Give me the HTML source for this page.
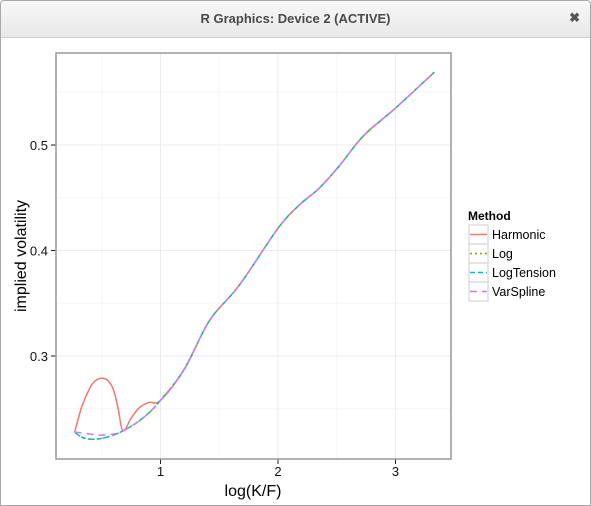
<!DOCTYPE html>
<html><head><meta charset="utf-8"><style>
body{margin:0;width:591px;height:506px;overflow:hidden;background:#fff;font-family:"Liberation Sans",sans-serif}
#win{position:absolute;left:0;top:0;width:589px;height:504px;border:1px solid #a8a8a8;border-radius:4px 4px 0 0;background:#fff}
#tb{position:absolute;left:0;top:0;width:589px;height:36px;background:linear-gradient(#f8f8f8,#e8e8e8);border-bottom:1px solid #d0d0d0;border-radius:4px 4px 0 0}
#tt{position:absolute;width:100%;top:10px;text-align:center;font-size:13px;font-weight:bold;color:#4a4a4a}
#cl{position:absolute;right:10px;top:9px;font-size:13px;color:#555;font-weight:bold}
svg{position:absolute;left:0;top:0}
</style></head><body>
<div id="win">
<div id="tb"><div id="tt">R Graphics: Device 2 (ACTIVE)</div><div id="cl">✖</div></div>
</div>
<svg id="ch" width="591" height="506"></svg>
<script>
const xTicks=[1,2,3];
const yTicks=[0.3,0.4,0.5];
const xMinor=[0.5,1.5,2.5];
const yMinor=[0.25,0.35,0.45,0.55];
const baseX=[0.27,0.33,0.415,0.5,0.6,0.68,0.8,0.9,1.0,1.2,1.42,1.67,2.0,2.18,2.35,2.52,2.73,3.0,3.33];
const baseY=[0.228,0.223,0.221,0.222,0.225,0.229,0.237,0.246,0.258,0.287,0.334,0.367,0.421,0.443,0.459,0.480,0.509,0.535,0.569];
const harmX=[0.27,0.33,0.4,0.45,0.5,0.55,0.6,0.64,0.68,0.75,0.82,0.9,1.0,1.2,1.42,1.67,2.0,2.18,2.35,2.52,2.73,3.0,3.33];
const harmY=[0.228,0.252,0.270,0.277,0.279,0.277,0.268,0.250,0.229,0.241,0.251,0.256,0.258,0.287,0.334,0.367,0.421,0.443,0.459,0.480,0.509,0.535,0.569];
const varX=[0.27,0.4,0.5,0.6,0.68,0.8,0.9,1.0,1.2,1.42,1.67,2.0,2.18,2.35,2.52,2.73,3.0,3.33];
const varY=[0.228,0.226,0.225,0.226,0.229,0.237,0.246,0.258,0.287,0.334,0.367,0.421,0.443,0.459,0.480,0.509,0.535,0.569];
const series=["Harmonic","Log","LogTension","VarSpline"];
const colors=["#F8766D","#7CAE00","#00BFC4","#C77CFF"];
const dashes=["","2,3","5,3","7,5"];
const L=56,T=53,R=451,B=459;
const sx=v=>43+117.5*v, sy=v=>356-(v-0.3)*1055;
const svg=document.getElementById('ch');const NS="http://www.w3.org/2000/svg";
function mk(t,a,p){const e=document.createElementNS(NS,t);for(const k in a)e.setAttribute(k,a[k]);(p||svg).appendChild(e);return e;}
const cp=mk('clipPath',{id:'cp'});mk('rect',{x:L,y:T,width:R-L,height:B-T},cp);
xMinor.forEach(v=>{const e=mk('line',{x1:sx(v),x2:sx(v),y1:T,y2:B,stroke:'#f5f5f5'});});
yMinor.forEach(v=>{const e=mk('line',{x1:L,x2:R,y1:sy(v),y2:sy(v),stroke:'#f5f5f5'});});
xTicks.forEach(v=>{const x=sx(v);let e=mk('line',{x1:x,x2:x,y1:T,y2:B,stroke:'#ebebeb'});
e=mk('line',{x1:x,x2:x,y1:B,y2:B+5,stroke:'#222'});
e=mk('text',{x:x,y:B+17,'text-anchor':'middle','font-size':13,fill:'#111'});e.textContent=v;});
yTicks.forEach(v=>{const y=sy(v);let e=mk('line',{x1:L,x2:R,y1:y,y2:y,stroke:'#ebebeb'});
e=mk('line',{x1:L-5,x2:L,y1:y,y2:y,stroke:'#222'});
e=mk('text',{x:L-8,y:y+5,'text-anchor':'end','font-size':13,fill:'#111'});e.textContent=v.toFixed(1);});
const pb=mk('rect',{x:L,y:T,width:R-L,height:B-T,fill:'none',stroke:'#999','stroke-width':1.5});
function line(xs,ys,i){const P=xs.map((x,j)=>[sx(x),sy(ys[j])]);let d='M'+P[0][0].toFixed(1)+','+P[0][1].toFixed(1);
for(let j=0;j<P.length-1;j++){const p0=P[Math.max(j-1,0)],p1=P[j],p2=P[j+1],p3=P[Math.min(j+2,P.length-1)];
const c1=[p1[0]+(p2[0]-p0[0])/6,p1[1]+(p2[1]-p0[1])/6],c2=[p2[0]-(p3[0]-p1[0])/6,p2[1]-(p3[1]-p1[1])/6];
d+='C'+c1.map(v=>v.toFixed(1))+' '+c2.map(v=>v.toFixed(1))+' '+p2.map(v=>v.toFixed(1));}
const e=mk('path',{d:d,fill:'none',stroke:colors[i],'stroke-width':1.5,'stroke-dasharray':dashes[i],'clip-path':'url(#cp)'});
}
line(harmX,harmY,0);line(baseX,baseY,1);line(baseX,baseY,2);line(varX,varY,3);
let e=mk('text',{x:253,y:496,'text-anchor':'middle','font-size':16,fill:'#000'});e.textContent='log(K/F)';
e=mk('text',{x:0,y:0,'text-anchor':'middle','font-size':16,fill:'#000',transform:'translate(26,256) rotate(-90)'});e.textContent='implied volatility';
e=mk('text',{x:468,y:220,'font-size':12,'font-weight':'bold',fill:'#000'});e.textContent='Method';
series.forEach((s,i)=>{const y=225+i*19;
let r=mk('rect',{x:469,y:y,width:19,height:19,fill:'#fff',stroke:'#ddd','stroke-width':1.5});
r=mk('line',{x1:470,x2:487,y1:y+9.5,y2:y+9.5,stroke:colors[i],'stroke-width':1.5,'stroke-dasharray':dashes[i]});
r=mk('text',{x:492,y:y+14,'font-size':12.5,fill:'#000'});r.textContent=s;});
</script>
</body></html>
